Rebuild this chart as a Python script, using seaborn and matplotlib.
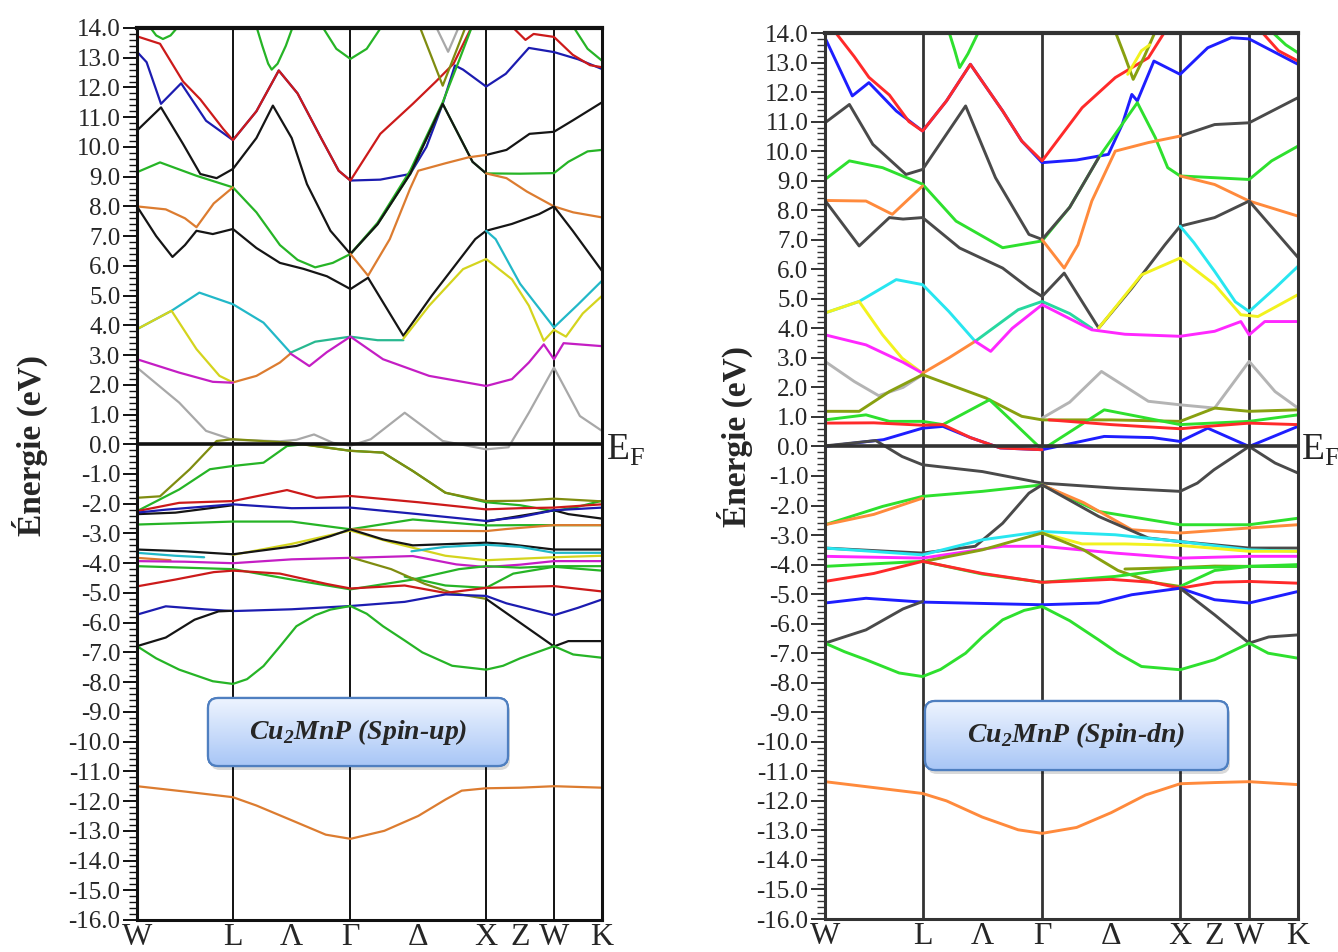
import numpy as np
import pandas as pd
import matplotlib
matplotlib.use("Agg")
import matplotlib.pyplot as plt
import seaborn as sns
from matplotlib.patches import FancyBboxPatch
from matplotlib.transforms import IdentityTransform
from matplotlib.ticker import MultipleLocator

# path W-L-G-X-W-K, band points given as (p, E): p = segment index + fraction
kpos = [0.0, 0.707, 1.573, 2.573, 3.073, 3.427]
klabels = ["W", "L", "Λ", "Γ", "Δ", "X", "Z", "W", "K"]
titles = ["Cu$_\\mathregular{2}$MnP (Spin-up)", "Cu$_\\mathregular{2}$MnP (Spin-dn)"]

# ---------------- spin-up ----------------
up_gray_1 = [(0, 2.58), (0.44, 1.4), (0.72, 0.45), (1, 0.15), (1.4, 0.1), (1.54, 0.15), (1.69, 0.33), (1.85, 0.05), (2, -0.05), (2.15, 0.17), (2.4, 1.06), (2.68, 0.11), (3, -0.17), (3.33, -0.1), (3.63, 1.06), (4, 2.58), (4.54, 0.95), (5, 0.45)]
up_gray_2 = [(2.63, 14.05), (2.72, 13.2), (2.8, 14.05)]
up_blue_1 = [(0, 13.2), (0.1, 12.85), (0.25, 11.45), (0.46, 12.14), (0.72, 10.88), (1, 10.23), (1.2, 11.2), (1.39, 12.57), (1.55, 11.8), (1.75, 10.3), (1.9, 9.2), (2, 8.87), (2.22, 8.9), (2.44, 9.09), (2.56, 10.0), (2.68, 11.45), (2.77, 12.74), (2.83, 12.6), (3, 12.03), (3.29, 12.46), (3.63, 13.33), (4, 13.19), (4.5, 12.95), (5, 12.62)]
up_red_1 = [(0, 13.72), (0.24, 13.47), (0.48, 12.2), (0.66, 11.6), (0.9, 10.6), (1, 10.23), (1.2, 11.2), (1.39, 12.57), (1.55, 11.8), (1.75, 10.3), (1.9, 9.2), (2, 8.87), (2.22, 10.44), (2.46, 11.45), (2.63, 12.2), (2.76, 12.8), (2.9, 14.1)]
up_red_2 = [(3.38, 14.05), (3.58, 13.6), (3.7, 13.8), (4, 13.7), (4.39, 13.1), (4.75, 12.75), (5, 12.68)]
up_green_1 = [(0, 9.15), (0.24, 9.48), (0.62, 9.03), (1, 8.64), (1.2, 7.8), (1.4, 6.7), (1.55, 6.2), (1.7, 5.95), (1.85, 6.1), (2, 6.4), (2.2, 7.4), (2.44, 9.09), (2.68, 11.45), (2.9, 9.5), (3, 9.11), (3.5, 9.1), (4, 9.12), (4.3, 9.5), (4.7, 9.85), (5, 9.9)]
up_green_2 = [(2, 6.4), (2.2, 7.45), (2.44, 9.2), (2.68, 11.5), (2.8, 12.9), (2.9, 14.1)]
up_black_1 = [(0, 10.55), (0.25, 11.33), (0.48, 10.1), (0.66, 9.09), (0.83, 8.95), (1, 9.26), (1.2, 10.3), (1.34, 11.39), (1.5, 10.3), (1.63, 8.75), (1.83, 7.18), (2, 6.4), (2.2, 7.4), (2.44, 9.09), (2.68, 11.45), (2.9, 9.5), (3, 9.11)]
up_black_2 = [(3, 9.73), (3.3, 9.9), (3.64, 10.44), (4, 10.51), (4.4, 10.9), (5, 11.5)]
up_orange_1 = [(0, 8.0), (0.3, 7.9), (0.5, 7.6), (0.62, 7.3), (0.8, 8.1), (1, 8.64)]
up_orange_2 = [(2, 6.4), (2.13, 5.67), (2.29, 6.9), (2.44, 8.6), (2.5, 9.2), (2.7, 9.45), (2.87, 9.65), (3, 9.73)]
up_orange_3 = [(3, 9.11), (3.3, 8.95), (3.6, 8.5), (4, 8.0), (4.4, 7.8), (5, 7.63)]
up_black_3 = [(0, 8.0), (0.2, 7.0), (0.37, 6.3), (0.5, 6.7), (0.62, 7.18), (0.79, 7.07), (1, 7.24), (1.2, 6.6), (1.4, 6.1), (1.6, 5.9), (1.8, 5.65), (2, 5.22), (2.13, 5.6), (2.25, 4.7), (2.39, 3.65), (2.6, 5.0), (2.92, 6.9), (3, 7.18), (3.38, 7.41), (3.78, 7.74), (4, 8.0), (4.39, 7.18), (5, 5.83)]
up_cyan_1 = [(0, 3.87), (0.36, 4.49), (0.65, 5.1), (1, 4.71), (1.26, 4.09), (1.49, 3.08)]
up_cyan_2 = [(3, 7.18), (3.14, 6.9), (3.5, 5.4), (4, 3.93), (4.5, 4.7), (5, 5.5)]
up_teal_1 = [(1.49, 3.08), (1.7, 3.45), (2, 3.62), (2.2, 3.5), (2.39, 3.5)]
up_yellow_1 = [(0, 3.87), (0.36, 4.49), (0.62, 3.2), (0.86, 2.3), (1, 2.08)]
up_orange_4 = [(1, 2.08), (1.2, 2.3), (1.4, 2.75), (1.49, 3.05)]
up_yellow_2 = [(2.39, 3.55), (2.58, 4.66), (2.83, 5.89), (3, 6.23), (3.38, 5.55), (3.63, 4.66), (3.85, 3.48), (4, 3.85), (4.25, 3.62), (4.6, 4.4), (5, 4.99)]
up_magenta_1 = [(0, 2.86), (0.44, 2.41), (0.79, 2.1), (1, 2.07)]
up_magenta_2 = [(1.49, 3.05), (1.65, 2.63), (1.8, 3.1), (2, 3.62), (2.24, 2.86), (2.58, 2.3), (3, 1.96), (3.38, 2.19), (3.63, 2.75), (3.85, 3.36), (4, 2.86), (4.2, 3.4), (4.6, 3.35), (5, 3.3)]
up_green_3 = [(0, -2.25), (0.44, -1.52), (0.76, -0.84), (1, -0.73), (1.26, -0.62), (1.46, -0.06), (1.6, 0.0), (2, -0.22), (2.24, -0.28), (2.46, -0.9), (2.7, -1.63), (3, -1.95), (3.5, -2.05), (4, -2.25), (4.5, -2.1), (5, -1.9)]
up_olive_1 = [(0, -1.8), (0.24, -1.75), (0.55, -0.84), (0.83, 0.11), (1, 0.17), (1.49, 0.05), (2, -0.22), (2.24, -0.28), (2.46, -0.9), (2.7, -1.63), (3, -1.91), (3.5, -1.9), (4, -1.83), (5, -1.92)]
up_red_3 = [(0, -2.25), (0.44, -1.97), (1, -1.91), (1.46, -1.54), (1.71, -1.8), (2, -1.74), (2.5, -1.95), (3, -2.19), (3.5, -2.15), (4, -2.13), (5, -2.02)]
up_black_4 = [(0, -2.35), (0.4, -2.3), (1, -2.05)]
up_black_5 = [(3, -2.6), (4, -2.22), (4.3, -2.35), (5, -2.5)]
up_blue_2 = [(0, -2.3), (0.3, -2.2), (1, -2.02), (1.5, -2.15), (2, -2.13), (2.5, -2.35), (3, -2.58), (3.5, -2.45), (4, -2.22), (5, -2.13)]
up_green_4 = [(0, -2.7), (1, -2.6), (1.5, -2.6), (2, -2.86), (2.46, -2.53), (3, -2.73), (3.5, -2.72), (4, -2.72), (5, -2.72)]
up_orange_5 = [(2, -2.86), (2.3, -2.9), (3, -2.92), (3.3, -2.85), (4, -2.72), (5, -2.72)]
up_yellow_3 = [(1, -3.72), (1.5, -3.35), (2, -2.9), (2.3, -3.3), (2.7, -3.75), (3, -3.9), (3.5, -3.85), (4, -3.8), (5, -3.75)]
up_black_6 = [(0, -3.54), (0.5, -3.6), (1, -3.7), (1.54, -3.42), (1.83, -3.09), (2, -2.86), (2.24, -3.2), (2.46, -3.4), (3, -3.31), (3.29, -3.35), (4, -3.54), (5, -3.54)]
up_cyan_3 = [(0, -3.65), (0.4, -3.75), (0.7, -3.8)]
up_cyan_4 = [(2.45, -3.6), (2.7, -3.45), (3, -3.38), (3.5, -3.45), (4, -3.65), (5, -3.65)]
up_orange_6 = [(0, -3.82), (0.35, -3.9)]
up_magenta_3 = [(0, -3.93), (0.5, -3.95), (1, -4.0), (1.5, -3.87), (2, -3.82), (2.46, -3.76), (2.78, -4.04), (3, -4.13), (3.5, -4.05), (4, -3.93), (5, -3.93)]
up_green_5 = [(0, -4.1), (0.5, -4.15), (1, -4.2), (1.5, -4.55), (2, -4.88), (2.46, -4.55), (2.8, -4.2), (3, -4.1), (3.5, -4.15), (4, -4.1), (5, -4.1)]
up_green_6 = [(2.4, -4.45), (2.7, -4.75), (3, -4.83), (3.4, -4.35), (4, -4.12), (5, -4.25)]
up_olive_2 = [(2, -3.8), (2.3, -4.2), (2.55, -4.7), (2.75, -5.0), (3, -5.2)]
up_red_4 = [(0, -4.78), (0.4, -4.55), (0.8, -4.3), (1, -4.25), (1.4, -4.35), (1.8, -4.7), (2, -4.85), (2.4, -4.75), (2.7, -5.0), (3, -4.83), (3.5, -4.8), (4, -4.77), (5, -4.95)]
up_blue_3 = [(0, -5.73), (0.3, -5.45), (0.7, -5.55), (1, -5.61), (1.5, -5.55), (2, -5.44), (2.4, -5.3), (2.7, -5.05), (3, -5.1), (3.3, -5.35), (4, -5.75), (4.5, -5.5), (5, -5.22)]
up_black_7 = [(3, -5.2), (3.5, -6.0), (4, -6.8), (4.3, -6.62), (5, -6.62)]
up_black_8 = [(0, -6.79), (0.3, -6.5), (0.6, -5.9), (0.85, -5.62), (1, -5.6)]
up_green_7 = [(0, -6.79), (0.2, -7.2), (0.44, -7.58), (0.79, -7.97), (1, -8.06), (1.12, -7.9), (1.26, -7.46), (1.4, -6.8), (1.54, -6.12), (1.7, -5.75), (1.83, -5.56), (2, -5.44), (2.12, -5.7), (2.24, -6.12), (2.4, -6.6), (2.53, -7.0), (2.75, -7.45), (3, -7.58), (3.25, -7.45), (3.5, -7.2), (4, -6.79), (4.4, -7.07), (5, -7.18)]
up_orange_7 = [(0, -11.5), (0.5, -11.68), (1, -11.87), (1.2, -12.15), (1.49, -12.63), (1.79, -13.13), (2, -13.27), (2.25, -13.0), (2.5, -12.5), (2.7, -11.95), (2.82, -11.65), (3, -11.57), (3.5, -11.55), (4, -11.5), (5, -11.55)]
up_green_8 = [(0.13, 14.05), (0.2, 13.75), (0.27, 13.63), (0.35, 13.75), (0.43, 14.05)]
up_green_9 = [(1.2, 14.05), (1.25, 13.4), (1.3, 12.8), (1.33, 12.6), (1.38, 12.8), (1.45, 13.4), (1.51, 14.05)]
up_green_10 = [(1.76, 14.05), (1.88, 13.3), (2, 12.96), (2.12, 13.3), (2.23, 14.05)]
up_olive_3 = [(2.51, 14.05), (2.6, 13.0), (2.68, 12.06), (2.76, 13.0), (2.85, 14.05)]
up_green_11 = [(4.4, 14.05), (4.7, 13.3), (5, 12.9)]

# ---------------- spin-down ----------------
dn_gray_1 = [(0, 2.88), (0.3, 2.2), (0.55, 1.72), (0.8, 2.0), (1, 2.43)]
dn_gray_2 = [(2, 0.96), (2.2, 1.5), (2.43, 2.54), (2.77, 1.53), (3, 1.41), (3.5, 1.3), (4, 2.88), (4.53, 1.86), (5, 1.3)]
dn_blue_1 = [(0, 13.84), (0.28, 11.87), (0.45, 12.32), (0.73, 11.36), (1, 10.68), (1.2, 11.7), (1.4, 12.94), (1.67, 11.36), (1.83, 10.34), (2, 9.61), (2.25, 9.7), (2.48, 9.89), (2.58, 10.9), (2.65, 11.92), (2.69, 11.7), (2.81, 13.05), (3, 12.6), (3.4, 13.5), (3.74, 13.84), (4, 13.8), (5, 12.94)]
dn_red_1 = [(0.1, 14.05), (0.3, 13.2), (0.45, 12.5), (0.66, 11.9), (0.86, 11.0), (1, 10.68), (1.2, 11.7), (1.4, 12.94), (1.67, 11.36), (1.83, 10.34), (2, 9.67), (2.29, 11.47), (2.53, 12.49), (2.77, 13.16), (2.89, 14.05)]
dn_red_2 = [(4.25, 14.05), (4.6, 13.4), (5, 13.05)]
dn_green_1 = [(0, 9.04), (0.25, 9.67), (0.59, 9.44), (1, 8.88), (1.28, 7.63), (1.67, 6.73), (2, 6.96), (2.2, 8.1), (2.41, 9.78), (2.69, 11.64), (2.82, 10.46), (2.91, 9.44), (3, 9.16), (3.5, 9.1), (4, 9.04), (4.46, 9.67), (5, 10.17)]
dn_black_1 = [(0, 10.96), (0.25, 11.58), (0.49, 10.23), (0.83, 9.21), (1, 9.38), (1.36, 11.53), (1.61, 9.1), (1.89, 7.18), (2, 7.01), (2.2, 8.1), (2.41, 9.78)]
dn_black_2 = [(3, 10.51), (3.5, 10.9), (4, 10.96), (5, 11.81)]
dn_orange_1 = [(0, 8.33), (0.42, 8.31), (0.69, 7.86), (1, 8.82)]
dn_orange_2 = [(2, 7.0), (2.16, 6.04), (2.26, 6.83), (2.36, 8.31), (2.53, 10.0), (2.77, 10.29), (3, 10.51)]
dn_orange_3 = [(3, 9.16), (3.5, 8.87), (4, 8.31), (5, 7.8)]
dn_black_3 = [(0, 8.33), (0.35, 6.79), (0.66, 7.75), (0.8, 7.7), (1, 7.75), (1.31, 6.72), (1.67, 6.04), (1.89, 5.36), (2, 5.08), (2.16, 5.87), (2.41, 4.01), (2.65, 5.36), (2.89, 6.83), (3, 7.46), (3.5, 7.75), (4, 8.31), (5, 6.4)]
dn_cyan_1 = [(0, 4.52), (0.35, 4.91), (0.73, 5.65), (1, 5.48), (1.22, 4.57), (1.44, 3.56)]
dn_teal_1 = [(1.44, 3.56), (1.8, 4.63), (2, 4.91), (2.2, 4.5), (2.36, 4.0)]
dn_cyan_2 = [(3, 7.46), (3.2, 6.9), (3.5, 5.93), (3.8, 4.9), (4, 4.57), (4.53, 5.36), (5, 6.1)]
dn_yellow_1 = [(0, 4.52), (0.35, 4.91), (0.59, 3.78), (0.79, 2.99), (1, 2.48)]
dn_yellow_2 = [(2.41, 4.01), (2.72, 5.81), (3, 6.38), (3.5, 5.48), (3.88, 4.46), (4.18, 4.4), (5, 5.14)]
dn_magenta_1 = [(0, 3.78), (0.42, 3.44), (0.8, 2.85), (1, 2.48)]
dn_orange_4 = [(1, 2.48), (1.22, 3.0), (1.44, 3.56)]
dn_magenta_2 = [(1.44, 3.56), (1.57, 3.22), (1.75, 4.0), (2, 4.8), (2.36, 3.95), (2.6, 3.8), (3, 3.73), (3.5, 3.9), (3.88, 4.23), (4, 3.78), (4.32, 4.23), (5, 4.23)]
dn_olive_1 = [(0, 1.19), (0.35, 1.19), (0.66, 1.86), (1, 2.43), (1.53, 1.64), (1.83, 1.02), (2, 0.9), (2.5, 0.9), (3, 0.85), (3.5, 1.3), (4, 1.19), (5, 1.24)]
dn_green_2 = [(0, 0.9), (0.42, 1.07), (0.66, 0.85), (1, 0.85), (1.17, 0.74), (1.56, 1.58), (1.78, 0.74), (2, -0.11), (2.45, 1.24), (3, 0.74), (4, 0.85), (5, 1.07)]
dn_blue_2 = [(0, 0.0), (0.6, 0.23), (1, 0.62), (1.17, 0.68), (1.4, 0.3), (1.65, -0.05), (2, -0.11), (2.45, 0.34), (2.8, 0.3), (3, 0.17), (3.4, 0.62), (4, 0.0), (5, 0.68)]
dn_red_3 = [(0, 0.79), (0.5, 0.8), (1, 0.72), (1.17, 0.74), (1.4, 0.3), (1.65, -0.05), (2, -0.11)]
dn_red_4 = [(2.05, 0.9), (2.5, 0.74), (3, 0.6), (3.5, 0.7), (4, 0.79), (5, 0.74)]
dn_black_4 = [(0, 0.02), (0.52, 0.2), (0.79, -0.34), (1, -0.62), (1.5, -0.85), (2, -1.24), (2.53, -1.41), (3, -1.52), (3.25, -1.24), (3.49, -0.79), (4, 0.0), (4.53, -0.56), (5, -0.9)]
dn_green_3 = [(0, -2.65), (0.59, -2.03), (1, -1.69), (1.5, -1.52), (2, -1.3), (2.41, -2.2), (3, -2.65), (4, -2.65), (5, -2.43)]
dn_orange_5 = [(0, -2.65), (0.5, -2.3), (1, -1.75)]
dn_orange_6 = [(2, -1.3), (2.3, -1.9), (2.65, -2.82), (3, -2.93), (4, -2.76), (5, -2.65)]
dn_black_5 = [(0, -3.44), (1, -3.61), (1.44, -3.38), (1.67, -2.6), (1.89, -1.58), (2, -1.3), (2.41, -2.37), (2.77, -3.1), (3, -3.22), (4, -3.44), (5, -3.44)]
dn_cyan_3 = [(0, -3.44), (1, -3.67), (1.5, -3.16), (2, -2.88), (2.53, -2.99), (3, -3.22), (4, -3.5), (5, -3.55)]
dn_yellow_3 = [(2, -2.93), (2.29, -3.3), (2.6, -3.3), (3, -3.35), (3.5, -3.45), (4, -3.55), (5, -3.55)]
dn_magenta_3 = [(0, -3.72), (1, -3.78), (1.67, -3.38), (2, -3.38), (2.53, -3.61), (3, -3.78), (4, -3.72), (5, -3.72)]
dn_olive_2 = [(1, -3.9), (1.5, -3.5), (2, -2.93), (2.3, -3.5), (2.55, -4.2), (2.8, -4.6), (3, -4.74)]
dn_olive_3 = [(2.6, -4.15), (3, -4.1), (3.5, -4.05), (4, -4.06), (5, -4.06)]
dn_green_4 = [(0, -4.06), (1, -3.89), (1.5, -4.32), (2, -4.6), (2.53, -4.4), (3, -4.12), (4, -4.06), (5, -4.06)]
dn_green_5 = [(3, -4.74), (3.5, -4.2), (4, -4.06), (5, -4.0)]
dn_red_5 = [(0, -4.57), (0.5, -4.3), (1, -3.89), (1.5, -4.3), (2, -4.6), (2.5, -4.5), (2.8, -4.6), (3, -4.8), (3.5, -4.6), (4, -4.57), (5, -4.63)]
dn_blue_3 = [(0, -5.3), (0.42, -5.14), (1, -5.27), (2, -5.36), (2.41, -5.3), (2.65, -5.02), (3, -4.8), (3.5, -5.19), (4, -5.3), (5, -4.91)]
dn_black_6 = [(0, -6.66), (0.42, -6.21), (0.8, -5.5), (1, -5.25)]
dn_black_7 = [(3, -4.8), (3.5, -5.7), (4, -6.66), (4.4, -6.45), (5, -6.38)]
dn_green_6 = [(0, -6.66), (0.2, -6.95), (0.42, -7.22), (0.76, -7.67), (1, -7.79), (1.15, -7.55), (1.36, -7.0), (1.5, -6.45), (1.67, -5.87), (1.85, -5.55), (2, -5.42), (2.2, -5.9), (2.41, -6.55), (2.55, -7.0), (2.72, -7.45), (3, -7.56), (3.5, -7.22), (4, -6.66), (4.39, -7.0), (5, -7.17)]
dn_orange_7 = [(0, -11.35), (0.5, -11.55), (1, -11.75), (1.2, -12.0), (1.5, -12.55), (1.8, -12.98), (2, -13.1), (2.25, -12.9), (2.5, -12.4), (2.75, -11.8), (3, -11.42), (3.5, -11.38), (4, -11.35), (5, -11.45)]
dn_green_7 = [(1.22, 14.05), (1.27, 13.4), (1.31, 12.83), (1.38, 13.3), (1.47, 14.05)]
dn_olive_4 = [(2.53, 14.05), (2.6, 13.2), (2.66, 12.43), (2.74, 13.2), (2.82, 14.05)]
dn_yellow_4 = [(2.62, 12.6), (2.72, 13.4), (2.78, 13.6)]
dn_green_8 = [(4.46, 14.05), (4.75, 13.6), (5, 13.33)]

up_colors = {"red": "#cc1a1a", "blue": "#1c1cb0", "black": "#151515", "green": "#26b426",
             "orange": "#dc7c30", "cyan": "#22b8c8", "yellow": "#d4d41e", "magenta": "#c41ec4",
             "gray": "#a8a8a8", "olive": "#7f8c10", "teal": "#28b890"}
dn_colors = {"red": "#ff2a2a", "blue": "#1e1eff", "black": "#4a4a4a", "green": "#2ee02e",
             "orange": "#ff8a3c", "cyan": "#28e6f0", "yellow": "#f2f21e", "magenta": "#ff28ff",
             "gray": "#b4b4b4", "olive": "#88a010", "teal": "#28d8a0"}


def collect(prefix):
    g = globals()
    return {n: g[n] for n in list(g) if n.startswith(prefix + "_") and isinstance(g[n], list)
            and n.split("_")[1] in up_colors}


def to_frame(bands):
    parts = []
    for name, pts in bands.items():
        p, e = np.array(pts).T
        parts.append(pd.DataFrame({"k": np.interp(p, range(6), kpos), "E": e, "band": name}))
    return pd.concat(parts, ignore_index=True)


sns.set_theme(style="white")
plt.rcParams["font.family"] = ["Liberation Serif", "DejaVu Serif"]

W, H = 1338, 952
fig = plt.figure(figsize=(W / 100, H / 100), dpi=100)
ax_up = fig.add_axes([137 / W, 1 - 920 / H, 465 / W, 892 / H])
ax_dn = fig.add_axes([825 / W, 1 - 919 / H, 473 / W, 886 / H])

label_pos = []
for i in range(5):
    label_pos.append(kpos[i])
    if i in (1, 2, 3):
        label_pos.append((kpos[i] + kpos[i + 1]) / 2)
label_pos.append(kpos[5])

panels = [(ax_up, "up", up_colors, 1.6, "#111111", 1.4),
          (ax_dn, "dn", dn_colors, 2.1, "#333333", 2.0)]
for ax, prefix, colors, lw, vcol, vlw in panels:
    bands = collect(prefix)
    df = to_frame(bands)
    pal = {n: colors[n.split("_")[1]] for n in bands}
    sns.lineplot(data=df, x="k", y="E", hue="band", hue_order=list(bands), palette=pal,
                 estimator=None, sort=False, legend=False, lw=lw, ax=ax)
    for k in kpos[1:-1]:
        ax.axvline(k, color=vcol, lw=vlw, zorder=1)
    ax.axhline(0, color=vcol, lw=2.6, zorder=3)
    ax.set_xlim(kpos[0], kpos[-1])
    ax.set_ylim(-16, 14)
    ticks = np.arange(-16, 15)
    ax.set_yticks(ticks)
    ax.set_yticklabels([f"{t:.1f}" for t in ticks])
    ax.yaxis.set_minor_locator(MultipleLocator(0.2))
    ax.tick_params(axis="y", which="major", direction="out", length=10, width=1.4,
                   labelsize=18, pad=2, left=True, color=vcol)
    ax.tick_params(axis="y", which="minor", direction="out", length=6, width=1.0,
                   left=True, color=vcol)
    ax.set_xticks(label_pos)
    ax.set_xticklabels(klabels)
    ax.tick_params(axis="x", length=0, labelsize=23, pad=2)
    ax.set_xlabel("")
    ax.set_ylabel("")
    for s in ax.spines.values():
        s.set_color(vcol)
        s.set_linewidth(2.2)
    ax.spines["top"].set_linewidth(3)

# axis titles and Fermi level labels
fig.text(30 / W, 1 - 445 / H, "Énergie (eV)", rotation=90, ha="center", va="center",
         fontsize=24, fontweight="bold")
fig.text(735 / W, 1 - 437 / H, "Énergie (eV)", rotation=90, ha="center", va="center",
         fontsize=24, fontweight="bold")
fig.text(606 / W, 1 - 450 / H, "E$_\\mathregular{F}$", ha="left", va="center", fontsize=27)
fig.text(1301 / W, 1 - 450 / H, "E$_\\mathregular{F}$", ha="left", va="center", fontsize=27)

# gradient label boxes
grad = np.linspace(0, 1, 64)[:, None, None]
top = np.array(matplotlib.colors.to_rgb("#eef4ff"))
bot = np.array(matplotlib.colors.to_rgb("#a8c6f6"))
img = top * (1 - grad) + bot * grad
for (x0, y0, bw, bh), title in zip([(208, 698, 300, 68), (925, 701, 303, 69)], titles):
    yb = H - y0 - bh
    bax = fig.add_axes([x0 / W, yb / H, bw / W, bh / H])
    bax.set_xlim(0, 1)
    bax.set_ylim(0, 1)
    bax.axis("off")
    shadow = FancyBboxPatch((x0 + 2, yb - 4), bw, bh, boxstyle="round,pad=0,rounding_size=10",
                            transform=IdentityTransform(), facecolor="#000000", alpha=0.15,
                            edgecolor="none", zorder=0)
    shadow.set_clip_on(False)
    bax.add_patch(shadow)
    box = FancyBboxPatch((x0, yb), bw, bh, boxstyle="round,pad=0,rounding_size=10",
                         transform=IdentityTransform(), facecolor="white",
                         edgecolor="#4f7fc0", lw=1.6, zorder=1)
    box.set_clip_on(False)
    bax.add_patch(box)
    im = bax.imshow(img, extent=[0, 1, 0, 1], aspect="auto", origin="upper", zorder=2)
    im.set_clip_path(box)
    edge = FancyBboxPatch((x0, yb), bw, bh, boxstyle="round,pad=0,rounding_size=10",
                          transform=IdentityTransform(), facecolor="none",
                          edgecolor="#4f7fc0", lw=1.6, zorder=3)
    edge.set_clip_on(False)
    bax.add_patch(edge)
    bax.text(0.5, 0.5, title, ha="center", va="center", fontsize=20, fontweight="bold",
             fontstyle="italic", zorder=6)

fig.savefig("out.png", dpi=100)
